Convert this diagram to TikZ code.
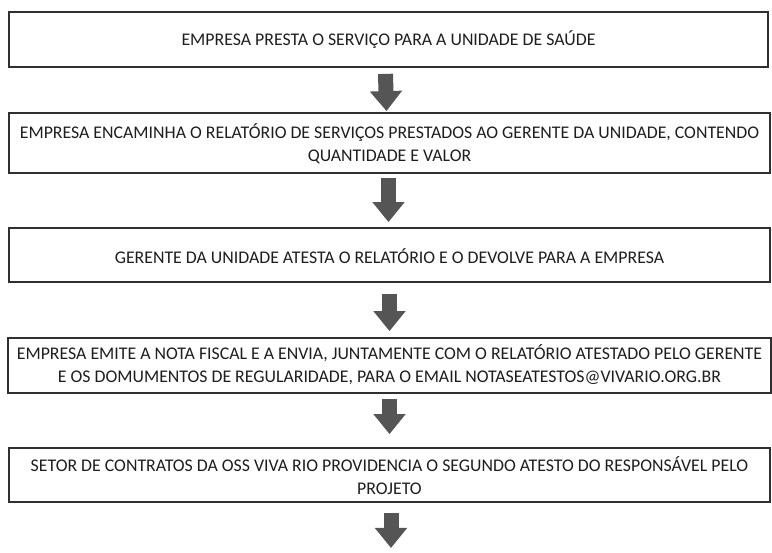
\documentclass[tikz,border=0pt]{standalone}
\usepackage{fontspec}
\setmainfont{Carlito}
\usetikzlibrary{arrows.meta,calc}
\definecolor{boxline}{HTML}{303030}
\definecolor{arrowfill}{HTML}{555555}
\definecolor{txt}{HTML}{1E1E1E}
\tikzset{
  stepbox/.style={draw=boxline, line width=1.8pt, fill=white, inner sep=0pt},
  steptext/.style={text=txt, align=center, inner sep=0pt,
    font=\fontsize{17.8}{23}\selectfont},
  blockarrow/.style={color=arrowfill, line width=15pt,
    -{Triangle[width=31pt,length=20pt]}}
}
\begin{document}
\begin{tikzpicture}[x=1pt,y=-1pt]
\useasboundingbox (0,0) rectangle (772,553);
\node[stepbox, minimum width=759pt, minimum height=55pt] (b1) at (388.5,39.5) {};
\node[stepbox, minimum width=761pt, minimum height=60pt] (b2) at (389.5,143) {};
\node[stepbox, minimum width=761pt, minimum height=54pt] (b3) at (389.5,255) {};
\node[stepbox, minimum width=763pt, minimum height=55pt] (b4) at (389.5,365.5) {};
\node[stepbox, minimum width=761pt, minimum height=54pt] (b5) at (389.5,475) {};
\node[steptext] (t1) at ([yshift=0pt]b1.center)
  {EMPRESA PRESTA O SERVIÇO PARA A UNIDADE DE SAÚDE};
\node[steptext] (t2) at ([yshift=-1pt]b2.center)
  {EMPRESA ENCAMINHA O RELATÓRIO DE SERVIÇOS PRESTADOS AO GERENTE DA UNIDADE, CONTENDO\\QUANTIDADE E VALOR};
\node[steptext] (t3) at ([yshift=-1pt]b3.center)
  {GERENTE DA UNIDADE ATESTA O RELATÓRIO E O DEVOLVE PARA A EMPRESA};
\node[steptext] (t4) at ([yshift=1pt]b4.center)
  {EMPRESA EMITE A NOTA FISCAL E A ENVIA, JUNTAMENTE COM O RELATÓRIO ATESTADO PELO GERENTE\\E OS DOMUMENTOS DE REGULARIDADE, PARA O EMAIL NOTASEATESTOS@VIVARIO.ORG.BR};
\node[steptext] (t5) at ([yshift=-0.5pt]b5.center)
  {SETOR DE CONTRATOS DA OSS VIVA RIO PROVIDENCIA O SEGUNDO ATESTO DO RESPONSÁVEL PELO\\PROJETO};
\coordinate (e5) at (391,548);
\draw[blockarrow] ([xshift=-3pt,yshift=-6pt]b1.south) -- ([xshift=-3pt,yshift=1pt]b2.north);
\draw[blockarrow] ([xshift=-1pt,yshift=-4pt]b2.south) -- ([xshift=-1pt,yshift=5pt]b3.north);
\draw[blockarrow] ([xshift=0pt,yshift=-11pt]b3.south) -- ([xshift=0pt,yshift=6pt]b4.north);
\draw[blockarrow] ([xshift=0pt,yshift=-5pt]b4.south) -- ([xshift=0pt,yshift=13pt]b5.north);
\draw[blockarrow] ([xshift=1.5pt,yshift=-10pt]b5.south) -- (e5);
\end{tikzpicture}
\end{document}
